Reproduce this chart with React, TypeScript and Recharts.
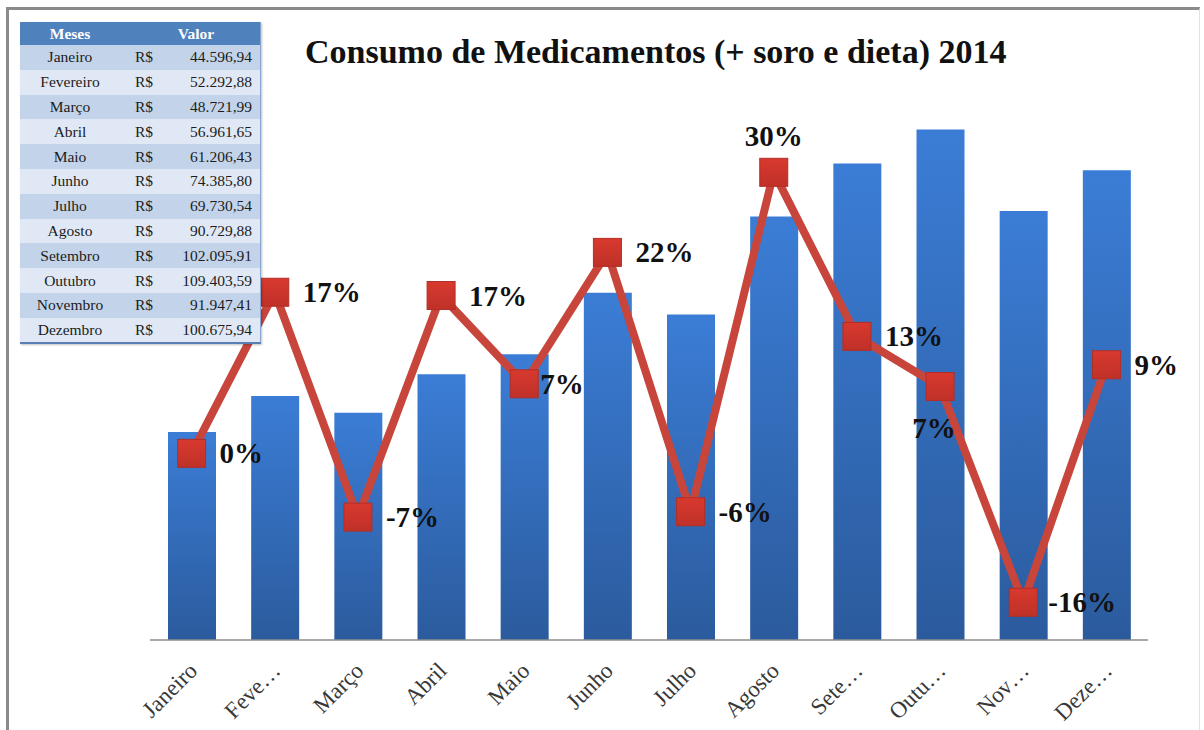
import React from "react";
import { ComposedChart, Bar, Line, XAxis, YAxis, LabelList } from "recharts";

const months = ["Janeiro", "Fevereiro", "Março", "Abril", "Maio", "Junho", "Julho", "Agosto", "Setembro", "Outubro", "Novembro", "Dezembro"];
const tickLabels = ["Janeiro", "Feve…", "Março", "Abril", "Maio", "Junho", "Julho", "Agosto", "Sete…", "Outu…", "Nov…", "Deze…"];
const values = [44596.94, 52292.88, 48721.99, 56961.65, 61206.43, 74385.8, 69730.54, 90729.88, 102095.91, 109403.59, 91947.41, 100675.94];
const growth = [0, 0.1726, -0.0683, 0.1691, 0.0745, 0.2153, -0.0626, 0.3011, 0.1253, 0.0716, -0.1596, 0.0949];

const title = "Consumo de Medicamentos (+ soro e dieta) 2014";
const tableHeaders = ["Meses", "Valor"];
const currency = "R$";

const data = months.map((m, i) => ({ mes: m, valor: values[i], var: growth[i] }));

const SERIF = "'Liberation Serif', 'Times New Roman', serif";

// label placement style (relative offsets to each marker)
const labelStyle: Record<number, { dx: number; dy: number; anchor: "start" | "middle" | "end" }> = {
  4: { dx: 16, dy: 10, anchor: "start" },
  7: { dx: 0, dy: -26, anchor: "middle" },
  9: { dx: -6, dy: 51, anchor: "middle" },
  10: { dx: 25, dy: 10, anchor: "start" },
};
const defaultLabel = { dx: 28, dy: 10, anchor: "start" as const };

function fmt(v: number) {
  const [i, d] = v.toFixed(2).split(".");
  return i.replace(/\B(?=(\d{3})+(?!\d))/g, ".") + "," + d;
}

const XTick = (props: any) => {
  const { x, y, payload } = props;
  const idx = payload && payload.index != null ? payload.index : props.index;
  return (
    <text
      transform={`translate(${x + 7},${y + 32}) rotate(-45)`}
      textAnchor="end"
      fontFamily={SERIF}
      fontSize={23}
      fill="#383838"
    >
      {tickLabels[idx]}
    </text>
  );
};

const SquareDot = (props: any) => {
  const { cx, cy, index } = props;
  if (cx == null || cy == null) return <g key={`d${index}`} />;
  return (
    <g key={`d${index}`}>
      <rect x={cx - 14} y={cy - 14} width={28} height={28} fill="url(#dotGrad)" stroke="#b22e26" strokeWidth={1} />
    </g>
  );
};

const PctLabel = (props: any) => {
  const { x, y, value, index } = props;
  const s = labelStyle[index] || defaultLabel;
  return (
    <text
      x={x + s.dx}
      y={y + s.dy}
      textAnchor={s.anchor}
      fontFamily={SERIF}
      fontWeight="bold"
      fontSize={29}
      fill="#111"
    >
      {Math.round(value * 100) + "%"}
    </text>
  );
};

export default function App() {
  return (
    <div style={{ position: "absolute", left: 0, top: 0, width: 1204, height: 730, background: "#fff", overflow: "hidden" }}>
      <div
        style={{
          position: "absolute",
          left: 6,
          top: 7,
          width: 1194,
          height: 730,
          borderTop: "3px solid #8a8a8a",
          borderLeft: "3px solid #8a8a8a",
          borderRight: "1px solid #e2e2e2",
          boxSizing: "border-box",
        }}
      />
      <div style={{ position: "absolute", left: 0, top: 0 }}>
        <ComposedChart width={1204} height={730} data={data} margin={{ top: 80, right: 56, left: 150, bottom: 10 }}>
          <defs>
            <linearGradient id="barGrad" x1="0" y1="0" x2="0" y2="1">
              <stop offset="0%" stopColor="#3b7dd6" />
              <stop offset="100%" stopColor="#2b5b9d" />
            </linearGradient>
            <linearGradient id="dotGrad" x1="0" y1="0" x2="0" y2="1">
              <stop offset="0%" stopColor="#d8392e" />
              <stop offset="100%" stopColor="#bf3128" />
            </linearGradient>
          </defs>
          <XAxis
            dataKey="mes"
            xAxisId="x"
            height={80}
            interval={0}
            tickLine={false}
            tickSize={0}
            tickMargin={0}
            axisLine={{ stroke: "#8c8c8c", strokeWidth: 1.5 }}
            tick={<XTick />}
          />
          <YAxis yAxisId="left" hide domain={[0, 120000]} />
          <YAxis yAxisId="right" hide orientation="right" domain={[-0.2, 0.4]} />
          <Bar
            dataKey="valor"
            xAxisId="x"
            yAxisId="left"
            barSize={48}
            fill="url(#barGrad)"
            isAnimationActive={false}
          />
          <Line
            dataKey="var"
            xAxisId="x"
            yAxisId="right"
            type="linear"
            stroke="#c8453c"
            strokeWidth={8}
            dot={<SquareDot />}
            activeDot={false}
            isAnimationActive={false}
          >
            <LabelList dataKey="var" content={<PctLabel />} />
          </Line>
        </ComposedChart>
      </div>
      <div
        style={{
          position: "absolute",
          left: 305,
          width: 700,
          top: 35,
          textAlign: "center",
          fontFamily: SERIF,
          fontWeight: "bold",
          fontSize: 34,
          lineHeight: "34px",
          color: "#111",
          whiteSpace: "nowrap",
        }}
      >
        {title}
      </div>
      <table
        style={{
          position: "absolute",
          left: 20,
          top: 22,
          width: 241,
          borderCollapse: "collapse",
          fontFamily: SERIF,
          fontSize: 15.5,
          color: "#1c1c1c",
          borderBottom: "2px solid #5a7fb5",
          borderRight: "1px solid #8aa6cf",
          boxShadow: "1px 1px 2px rgba(0,0,0,0.25)",
        }}
      >
        <tbody>
          <tr style={{ height: 23, background: "#4f81bd", color: "#fff", fontWeight: "bold" }}>
            <td style={{ width: 100, textAlign: "center", padding: 0 }}>{tableHeaders[0]}</td>
            <td colSpan={2} style={{ textAlign: "center", padding: "0 0 0 12px" }}>{tableHeaders[1]}</td>
          </tr>
          {months.map((m, i) => (
            <tr key={m} style={{ height: 24.8, background: i % 2 === 0 ? "#c3d4ea" : "#dfe8f4" }}>
              <td style={{ width: 100, textAlign: "center", padding: 0 }}>{m}</td>
              <td style={{ width: 40, textAlign: "left", padding: "0 0 0 15px" }}>{currency}</td>
              <td style={{ textAlign: "right", padding: "0 8px 0 0" }}>{fmt(values[i])}</td>
            </tr>
          ))}
        </tbody>
      </table>
    </div>
  );
}
